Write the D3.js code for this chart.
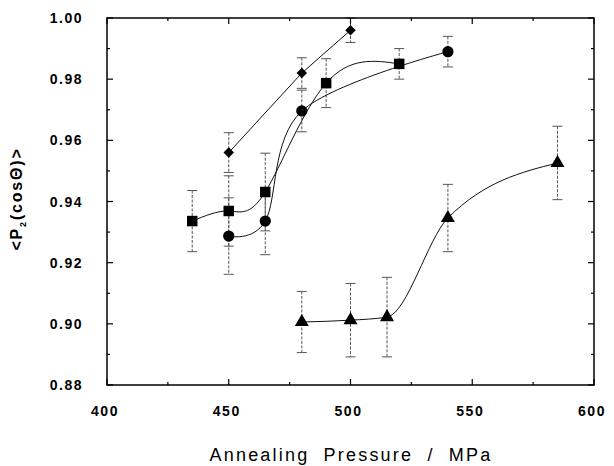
<!DOCTYPE html>
<html>
<head>
<meta charset="utf-8">
<script src="https://cdn.jsdelivr.net/npm/d3@7"></script>
<style>
  body { margin: 0; background: #fff; }
  text { font-family: "Liberation Sans", Arial, sans-serif; }
</style>
</head>
<body>
<div id="chart"></div>
<script>
// data
const diamondX = [450, 480, 500];
const diamondY = [0.956, 0.982, 0.996];
const diamondErr = [0.0065, 0.005, 0.004];

const squareX = [435, 450, 465, 490, 520];
const squareY = [0.9336, 0.9369, 0.9431, 0.9787, 0.985];
const squareErr = [0.010, 0.0115, 0.0127, 0.008, 0.005];

const circleX = [450, 465, 480, 540];
const circleY = [0.9287, 0.9336, 0.9696, 0.989];
const circleErr = [0.0125, 0.011, 0.0068, 0.005];

const triangleX = [480, 500, 515, 540, 585];
const triangleY = [0.9006, 0.9012, 0.9022, 0.9346, 0.9526];
const triangleErr = [0.010, 0.012, 0.013, 0.011, 0.012];

const xTicks = [400, 450, 500, 550, 600];
const yTicks = [0.88, 0.90, 0.92, 0.94, 0.96, 0.98, 1.00];

const width = 614, height = 466;
const margin = { top: 18, right: 20, bottom: 81, left: 107 };

const svg = d3.select("#chart").append("svg")
  .attr("width", width)
  .attr("height", height);

const x = d3.scaleLinear().domain([400, 600]).range([margin.left, width - margin.right]);
const y = d3.scaleLinear().domain([0.88, 1.0]).range([height - margin.bottom, margin.top]);

const zip = (xs, ys, es) => xs.map((v, i) => ({ x: v, y: ys[i], e: es[i] }));
const series = [
  { name: "diamond", pts: zip(diamondX, diamondY, diamondErr), curve: d3.curveLinear, sym: d3.symbolSquare, size: 55, rot: 45 },
  { name: "square", pts: zip(squareX, squareY, squareErr), curve: d3.curveNatural, sym: d3.symbolSquare, size: 110, rot: 0 },
  { name: "circle", pts: zip(circleX, circleY, circleErr), curve: d3.curveCatmullRom.alpha(0), sym: d3.symbolCircle, size: 100, rot: 0 },
  { name: "triangle", pts: zip(triangleX, triangleY, triangleErr), curve: d3.curveMonotoneX, sym: d3.symbolTriangle, size: 85, rot: 0 },
];

// error bars
series.forEach(s => {
  const g = svg.append("g").attr("class", "err " + s.name)
    .attr("stroke", "#555").attr("stroke-width", 1).attr("fill", "none");
  g.selectAll("line.v").data(s.pts).join("line")
    .attr("class", "v")
    .attr("x1", d => x(d.x)).attr("x2", d => x(d.x))
    .attr("y1", d => y(d.y + d.e)).attr("y2", d => y(d.y - d.e))
    .attr("stroke-dasharray", "3,1.5");
  g.selectAll("line.t").data(s.pts).join("line")
    .attr("class", "t")
    .attr("x1", d => x(d.x) - 5).attr("x2", d => x(d.x) + 5)
    .attr("y1", d => y(d.y + d.e)).attr("y2", d => y(d.y + d.e));
  g.selectAll("line.b").data(s.pts).join("line")
    .attr("class", "b")
    .attr("x1", d => x(d.x) - 5).attr("x2", d => x(d.x) + 5)
    .attr("y1", d => y(d.y - d.e)).attr("y2", d => y(d.y - d.e));
});

// connecting curves
series.forEach(s => {
  const line = d3.line().x(d => x(d.x)).y(d => y(d.y)).curve(s.curve);
  svg.append("path")
    .datum(s.pts)
    .attr("d", line)
    .attr("fill", "none")
    .attr("stroke", "#111")
    .attr("stroke-width", 1);
});

// markers
series.forEach(s => {
  svg.append("g").selectAll("path").data(s.pts).join("path")
    .attr("transform", d => `translate(${x(d.x)},${y(d.y)}) rotate(${s.rot})`)
    .attr("d", d3.symbol().type(s.sym).size(s.size))
    .attr("fill", "#000");
});

// frame and axes, ticks pointing inward
const x0 = margin.left, x1 = width - margin.right;
const y0 = height - margin.bottom, y1 = margin.top;

svg.append("rect")
  .attr("x", x0).attr("y", y1)
  .attr("width", x1 - x0).attr("height", y0 - y1)
  .attr("fill", "none").attr("stroke", "#000").attr("stroke-width", 1.5);

const xMinor = d3.range(400, 601, 25);
const yMinor = d3.range(0, 13).map(i => 0.88 + i * 0.01);

const ticks = svg.append("g").attr("stroke", "#000").attr("stroke-width", 1.2);
xMinor.forEach(v => {
  const len = xTicks.includes(v) ? 6 : 3;
  ticks.append("line").attr("x1", x(v)).attr("x2", x(v)).attr("y1", y0).attr("y2", y0 - len);
  ticks.append("line").attr("x1", x(v)).attr("x2", x(v)).attr("y1", y1).attr("y2", y1 + len);
});
yMinor.forEach((v, i) => {
  const len = i % 2 === 0 ? 6 : 3;
  ticks.append("line").attr("x1", x0).attr("x2", x0 + len).attr("y1", y(v)).attr("y2", y(v));
  ticks.append("line").attr("x1", x1).attr("x2", x1 - len).attr("y1", y(v)).attr("y2", y(v));
});

svg.append("g").selectAll("text").data(xTicks).join("text")
  .attr("x", d => x(d) - 2)
  .attr("y", y0 + 31)
  .attr("text-anchor", "middle")
  .attr("font-size", 14)
  .attr("font-weight", "bold")
  .attr("letter-spacing", 1.5)
  .text(d => d);

svg.append("g").selectAll("text").data(yTicks).join("text")
  .attr("x", x0 - 24)
  .attr("y", d => y(d) + 5)
  .attr("text-anchor", "end")
  .attr("font-size", 14)
  .attr("font-weight", "bold")
  .attr("letter-spacing", 1.5)
  .text(d => d.toFixed(2));

// axis titles
svg.append("text")
  .attr("x", 351)
  .attr("y", 461)
  .attr("text-anchor", "middle")
  .attr("font-size", 18)
  .attr("letter-spacing", 2.2)
  .attr("word-spacing", 7)
  .attr("font-weight", 500)
  .text("Annealing Pressure / MPa");

const yt = svg.append("text")
  .attr("transform", "translate(22,199) rotate(-90)")
  .attr("text-anchor", "middle")
  .attr("font-size", 16)
  .attr("font-weight", "bold")
  .attr("letter-spacing", 1.8);
yt.append("tspan").text("<P");
yt.append("tspan").attr("font-size", 9).attr("dy", 4).text("2");
yt.append("tspan").attr("dy", -4).text("(cosΘ)>");
</script>
</body>
</html>
